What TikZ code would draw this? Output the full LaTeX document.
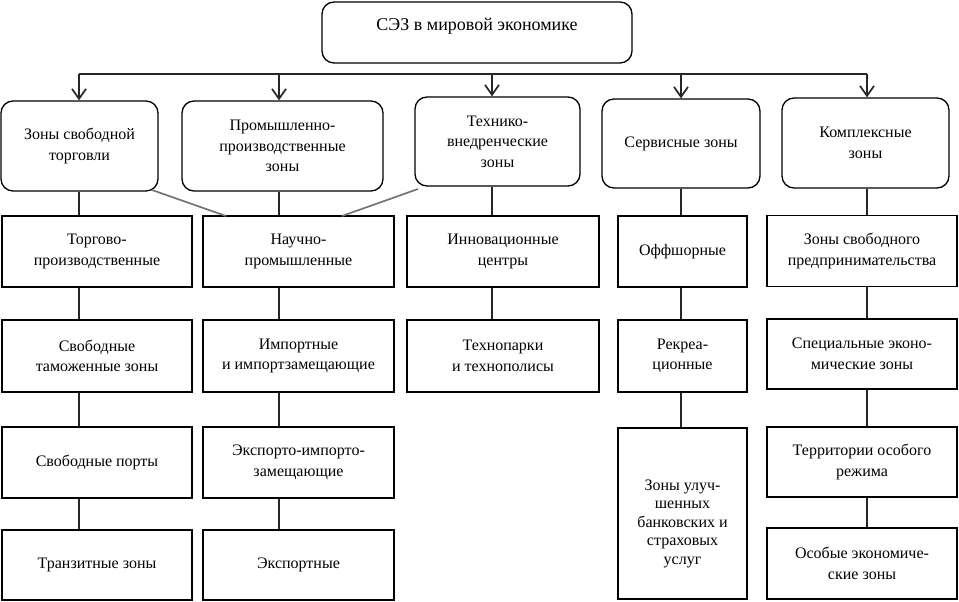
\documentclass[tikz,border=0pt]{standalone}
\usepackage{fontspec}
\setmainfont{Liberation Serif}
\usetikzlibrary{arrows.meta}
\begin{document}
\begin{tikzpicture}[x=1pt,y=-1pt,
  rbox/.style={draw=black, line width=1.3pt, rounded corners=12pt, align=center,
    font=\fontsize{16}{20.5}\selectfont, inner sep=2pt},
  sbox/.style={draw=black, line width=1.3pt, align=center,
    font=\fontsize{16}{20.5}\selectfont, inner sep=2pt},
  topbox/.style={draw=black, line width=1.3pt, rounded corners=12pt,
    font=\fontsize{18}{22}\selectfont, inner sep=2pt},
  link/.style={line width=2.2pt, draw=black!85},
  arr/.style={line width=1.7pt, draw=black!85,
    -{Straight Barb[length=10pt,width=14pt,line width=1.7pt]}},
  diag/.style={line width=1.7pt, draw=black!55}]
\useasboundingbox (0,0) rectangle (959,602);

% top
\node[topbox, minimum width=310pt, minimum height=61pt, text height=13pt, text depth=16pt]
  (top) at (477,32.5) {СЭЗ в мировой экономике};

% row 2
\node[rbox, minimum width=157pt, minimum height=90pt] (b1) at (79.5,146) {Зоны свободной\\торговли};
\node[rbox, minimum width=201pt, minimum height=90pt] (b2) at (282.5,146) {Промышленно-\\производственные\\зоны};
\node[rbox, minimum width=165pt, minimum height=89pt] (b3) at (497.5,141.5) {Технико-\\внедренческие\\зоны};
\node[rbox, minimum width=158pt, minimum height=89pt] (b4) at (681,143.5) {Сервисные зоны};
\node[rbox, minimum width=167pt, minimum height=90pt] (b5) at (865.5,143) {Комплексные\\зоны};

% column 1
\node[sbox, minimum width=190pt, minimum height=71pt] (c11) at (97,251.5) {Торгово-\\производственные};
\node[sbox, minimum width=190pt, minimum height=72pt] (c12) at (97,356) {Свободные\\таможенные зоны};
\node[sbox, minimum width=190pt, minimum height=71pt] (c13) at (97,462.5) {Свободные порты};
\node[sbox, minimum width=190pt, minimum height=70pt] (c14) at (97,565) {Транзитные зоны};

% column 2
\node[sbox, minimum width=191pt, minimum height=71pt] (c21) at (298.5,251.5) {Научно-\\промышленные};
\node[sbox, minimum width=191pt, minimum height=72pt] (c22) at (298.5,356) {Импортные\\и импортзамещающие};
\node[sbox, minimum width=191pt, minimum height=71pt] (c23) at (298.5,462.5) {Экспорто-импорто-\\замещающие};
\node[sbox, minimum width=191pt, minimum height=70pt] (c24) at (298.5,565) {Экспортные};

% column 3
\node[sbox, minimum width=192pt, minimum height=71pt] (c31) at (503,251.5) {Инновационные\\центры};
\node[sbox, minimum width=192pt, minimum height=72pt] (c32) at (503,356) {Технопарки\\и технополисы};

% column 4
\node[sbox, minimum width=129pt, minimum height=71pt] (c41) at (682.5,251.5) {Оффшорные};
\node[sbox, minimum width=129pt, minimum height=72pt] (c42) at (682.5,356) {Рекреа-\\ционные};
\node[sbox, minimum width=129pt, minimum height=171pt, font=\fontsize{16}{18.5}\selectfont,
  text height=105pt, text depth=4pt] (c43) at (682.5,513.5) {Зоны улуч-\\шенных\\банковских и\\страховых\\услуг};

% column 5
\node[sbox, minimum width=190pt, minimum height=71pt] (c51) at (862,251) {Зоны свободного\\предпринимательства};
\node[sbox, minimum width=190pt, minimum height=70pt] (c52) at (862,354) {Специальные эконо-\\мические зоны};
\node[sbox, minimum width=190pt, minimum height=70pt] (c53) at (862,462) {Территории особого\\режима};
\node[sbox, minimum width=190pt, minimum height=71pt] (c54) at (862,563.5) {Особые экономиче-\\ские зоны};

% bus
\coordinate (h1) at (79,74);
\coordinate (h2) at (279,74);
\coordinate (h3) at (492,74);
\coordinate (h4) at (681,74);
\coordinate (h5) at (867,74);
\draw[link] (h1) -- (h5);
\draw[arr] (h1) -- (h1 |- b1.north);
\draw[arr] (h2) -- (h2 |- b2.north);
\draw[arr] (h3) -- (h3 |- b3.north);
\draw[arr] (h4) -- (h4 |- b4.north);
\draw[arr] (h5) -- (h5 |- b5.north);

% vertical connectors
\draw[link] (b1.south -| h1) -- (c11.north -| h1);
\draw[link] (c11.south -| h1) -- (c12.north -| h1);
\draw[link] (c12.south -| h1) -- (c13.north -| h1);
\draw[link] (c13.south -| h1) -- (c14.north -| h1);

\draw[link] (b2.south -| h2) -- (c21.north -| h2);
\draw[link] (c21.south -| h2) -- (c22.north -| h2);
\draw[link] (c22.south -| h2) -- (c23.north -| h2);
\draw[link] (c23.south -| h2) -- (c24.north -| h2);

\draw[link] (b3.south -| h3) -- (c31.north -| h3);
\draw[link] (c31.south -| h3) -- (c32.north -| h3);

\draw[link] (b4.south -| h4) -- (c41.north -| h4);
\draw[link] (c41.south -| h4) -- (c42.north -| h4);
\draw[link] (c42.south -| h4) -- (c43.north -| h4);

\draw[link] (b5.south -| h5) -- (c51.north -| h5);
\draw[link] (c51.south -| h5) -- (c52.north -| h5);
\draw[link] (c52.south -| h5) -- (c53.north -| h5);
\draw[link] (c53.south -| h5) -- (c54.north -| h5);

% diagonal lines into Научно-промышленные
\coordinate (dA) at (152,190);
\coordinate (dB) at (226,216);
\coordinate (dC) at (418,189);
\coordinate (dD) at (342,216);
\draw[diag] (dA) -- (dB);
\draw[diag] (dC) -- (dD);
\end{tikzpicture}
\end{document}
